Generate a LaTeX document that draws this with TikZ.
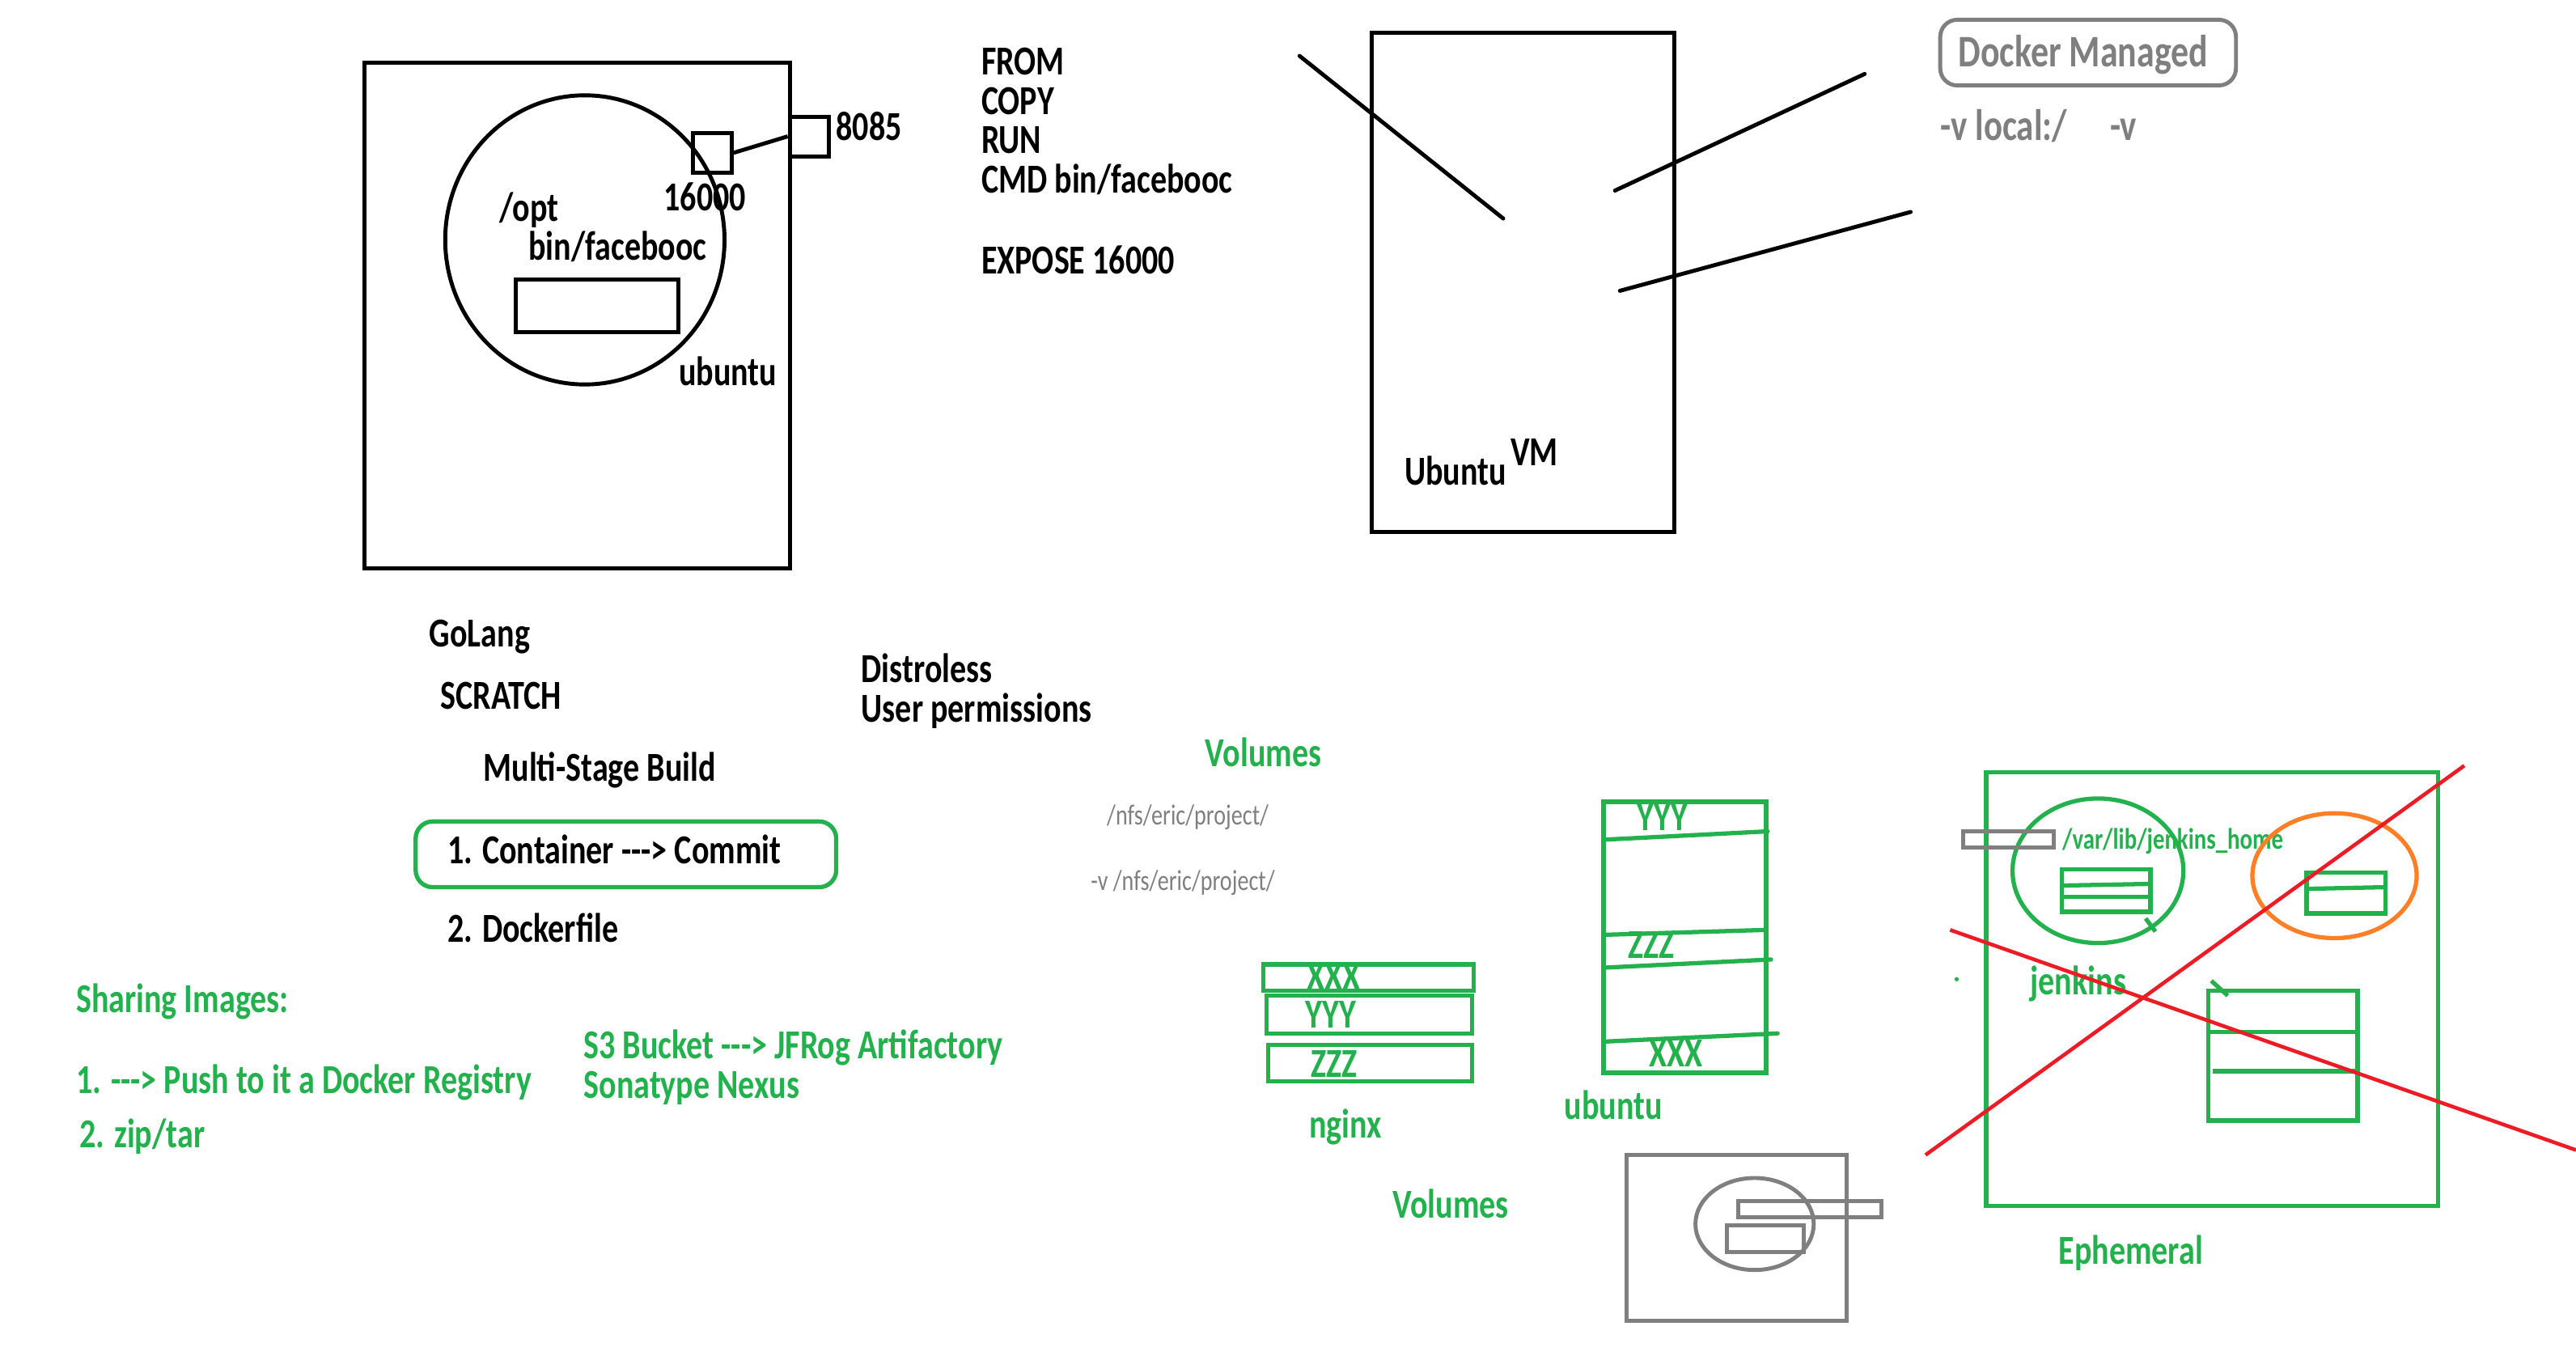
\documentclass[tikz,border=0pt]{standalone}
\usepackage{fontspec}
\setmainfont{Carlito}
\usetikzlibrary{positioning}
\definecolor{pgreen}{HTML}{22B14C}
\definecolor{pgray}{HTML}{7F7F7F}
\definecolor{porange}{HTML}{FF7F27}
\definecolor{pred}{HTML}{ED1C24}
\newcommand{\tl}[1]{\scalebox{1}[1.27]{#1}}
\tikzset{
  ink/.style={draw=black,line width=1.4pt},
  gink/.style={draw=pgreen,line width=1.5pt},
  grink/.style={draw=pgray,line width=1.4pt},
  lbl/.style={font=\fontsize{11.4}{13}\selectfont\bfseries,inner sep=0pt,text height=0.818em,text depth=0pt,yshift=-0.8pt},
  glbl/.style={lbl,text=pgreen},
  small/.style={font=\fontsize{8}{9}\selectfont,inner sep=0pt,text height=0.818em,text depth=0pt,yshift=-0.5pt},
  port/.style={ink,minimum width=0.48cm,minimum height=0.49cm,inner sep=0pt},
}
\begin{document}
\begin{tikzpicture}[x=0.0203061cm,y=-0.0203061cm]
\useasboundingbox (0,0) rectangle (1568,825);
% container on the host
\draw[ink] (222,38) rectangle (481,346);
\draw[ink] (356,146) ellipse [x radius=85, y radius=88];
\draw[ink] (314,170) rectangle (413,202);
\node[port] (cport) at (433.5,93) {};
\node[port] (hport) at (492.5,83) {};
\draw[ink] (cport.east) -- (hport.west);
\node[lbl] (p8085) at (529,77) {\tl{8085}};
\node[lbl] (p16000) at (429,120) {\tl{16000}};
\node[lbl] (opt) at (322,126) {\tl{/opt}};
\node[lbl] (bin) at (376,150) {\tl{bin/facebooc}};
\node[lbl] (ubu) at (443,226) {\tl{ubuntu}};
% dockerfile
\node[lbl,anchor=west] (from) at (597,37) {\tl{FROM}};
\node[lbl,anchor=west] (copy) at (597,61) {\tl{COPY}};
\node[lbl,anchor=west] (run) at (597,85) {\tl{RUN}};
\node[lbl,anchor=west] (cmd) at (597,109) {\tl{CMD bin/facebooc}};
\node[lbl,anchor=west] (expose) at (597,158) {\tl{EXPOSE 16000}};
% vm
\draw[ink] (835,20) rectangle (1019,324);
\draw[ink,line cap=round] (791,34) -- (915,133);
\draw[ink,line cap=round] (983,116) -- (1135,45);
\draw[ink,line cap=round] (986,177) -- (1163,129);
\node[lbl] (ubvm) at (886,287) {\tl{Ubuntu}};
\node[lbl] (vm) at (934,275) {\tl{VM}};
% docker managed
\draw[grink,rounded corners=6pt] (1181,12) rectangle (1361,52);
\node[lbl,text=pgray,font=\fontsize{12.5}{14}\selectfont\bfseries] (dmgd) at (1268,32) {\tl{Docker Managed}};
\node[lbl,text=pgray,font=\fontsize{12.2}{14}\selectfont\bfseries,anchor=west] (vloc) at (1181,77) {\tl{-v local:/}};
\node[lbl,text=pgray,font=\fontsize{12.2}{14}\selectfont\bfseries,anchor=west] (vv) at (1284,77) {\tl{-v}};
% images
\node[lbl] (golang) at (292,385) {\tl{GoLang}};
\node[lbl] (scratch) at (305,423) {\tl{SCRATCH}};
\node[lbl] (msb) at (365,467) {\tl{Multi-Stage Build}};
\node[lbl,anchor=west] (distro) at (524,407) {\tl{Distroless}};
\node[lbl,anchor=west] (uperm) at (524,431) {\tl{User permissions}};
\draw[gink,rounded corners=6pt] (253,500) rectangle (509,540);
\node[lbl,anchor=west] (commit) at (272,517) {\tl{1. Container -{}-{}-> Commit}};
\node[lbl,anchor=west] (dfile) at (272,565) {\tl{2. Dockerfile}};
% sharing
\node[glbl,anchor=west] (share) at (46,608) {\tl{Sharing Images:}};
\node[glbl,anchor=west] (push) at (46,657) {\tl{1. -{}-{}-> Push to it a Docker Registry}};
\node[glbl,anchor=west] (zip) at (48,690) {\tl{2. zip/tar}};
\node[glbl,anchor=west] (s3) at (355,636) {\tl{S3 Bucket -{}-{}-> JFRog Artifactory}};
\node[glbl,anchor=west] (nexus) at (355,660) {\tl{Sonatype Nexus}};
% volumes
\node[glbl] (vols) at (769,458) {\tl{Volumes}};
\node[small,text=pgray] (nfs) at (723,494) {\tl{/nfs/eric/project/}};
\node[small,text=pgray] (vnfs) at (720,534) {\tl{-v /nfs/eric/project/}};
\draw[gink] (769,587) rectangle (897,603);
\draw[gink] (771,606) rectangle (896,629);
\draw[gink] (772,636) rectangle (896,658);
\node[glbl] (nx) at (812,594) {\tl{XXX}};
\node[glbl] (ny) at (810,617) {\tl{YYY}};
\node[glbl] (nz) at (812,647) {\tl{ZZZ}};
\node[glbl] (nginx) at (819,684) {\tl{nginx}};
\draw[gink] (976,488) rectangle (1075,653);
\draw[gink,line cap=round] (978,511) -- (1076,506);
\draw[gink] (976,569) -- (1075,566);
\draw[gink,line cap=round] (976,589) -- (1078,584);
\draw[gink,line cap=round] (976,634) -- (1082,629);
\node[glbl] (uy) at (1012,497) {\tl{YYY}};
\node[glbl] (uz) at (1005,575) {\tl{ZZZ}};
\node[glbl] (ux) at (1020,641) {\tl{XXX}};
\node[glbl] (ubg) at (982,673) {\tl{ubuntu}};
\node[glbl] (vols2) at (883,733) {\tl{Volumes}};
\draw[grink] (990,703) rectangle (1124,804);
\draw[grink] (1068,745) ellipse [x radius=36, y radius=28];
\draw[grink] (1058,731) rectangle (1145,741);
\draw[grink] (1051,746) rectangle (1098,762);
% ephemeral
\draw[gink] (1209,470) rectangle (1484,734);
\draw[gink] (1277,530) ellipse [x radius=52, y radius=44];
\draw[grink] (1195,506) rectangle (1250,516);
\node[small,font=\fontsize{8.2}{9}\selectfont\bfseries,text=pgreen,anchor=west] (jhome) at (1255,509) {\tl{/var/lib/jenkins\_home}};
\draw[gink] (1255,529) rectangle (1309,555);
\draw[gink] (1255,539) -- (1309,538);
\draw[gink] (1255,546) -- (1309,546);
\draw[gink] (1306,559) -- (1312,567);
\draw[porange,line width=1.5pt] (1421,533) ellipse [x radius=50, y radius=38];
\draw[gink] (1404,531) rectangle (1452,556);
\draw[gink] (1404,541) -- (1452,540);
\draw[gink] (1344,603) rectangle (1435,682);
\draw[gink] (1344,628) -- (1435,628);
\draw[gink] (1347,652) -- (1435,652);
\draw[gink] (1346,597) -- (1356,606);
\fill[pgreen] (1191,596) circle [radius=1.3];
\node[glbl] (jenk) at (1265,597) {\tl{jenkins}};
\node[glbl] (ephem) at (1297,761) {\tl{Ephemeral}};
\draw[pred,line width=1.3pt] (1172,703) -- (1500,466);
\draw[pred,line width=1.3pt] (1187,566) -- (1568,700);
\end{tikzpicture}
\end{document}
